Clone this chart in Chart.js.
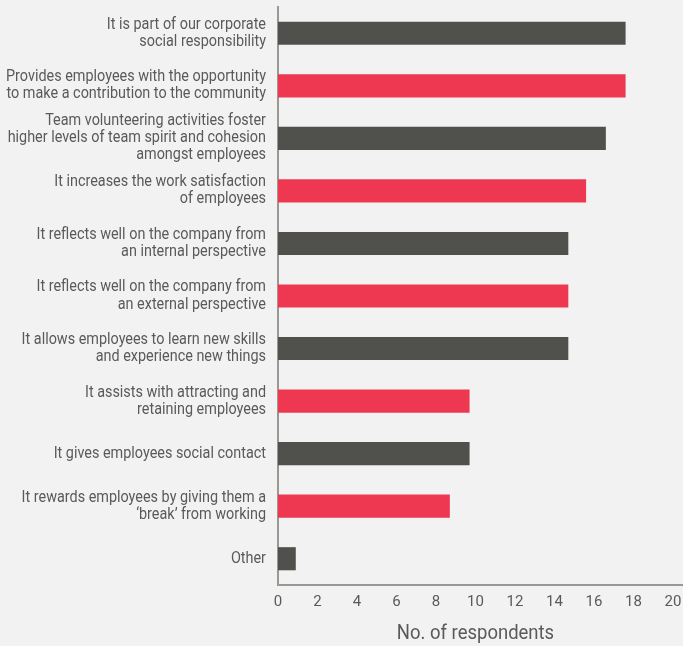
<!DOCTYPE html>
<html>
<head>
<meta charset="utf-8">
<script src="https://cdn.jsdelivr.net/npm/chart.js@4"></script>
<style>
  html, body { margin: 0; padding: 0; background: #f2f2f2; }
  #wrap { width: 683px; height: 646px; position: relative; }
</style>
</head>
<body>
<div id="wrap"><canvas id="reasons_chart"></canvas></div>
<script>
// reasons for team volunteering
var reasons = [
    ["It is part of our corporate", "social responsibility"],
    ["Provides employees with the opportunity", "to make a contribution to the community"],
    ["Team volunteering activities foster", "higher levels of team spirit and cohesion", "amongst employees"],
    ["It increases the work satisfaction", "of employees"],
    ["It reflects well on the company from", "an internal perspective"],
    ["It reflects well on the company from", "an external perspective"],
    ["It allows employees to learn new skills", "and experience new things"],
    ["It assists with attracting and", "retaining employees"],
    ["It gives employees social contact"],
    ["It rewards employees by giving them a", "\u2018break\u2019 from working"],
    ["Other"],
];
var respondents = [17.6, 17.6, 16.6, 15.6, 14.7, 14.7, 14.7, 9.7, 9.7, 8.7, 0.9];
var xTicks = [0, 2, 4, 6, 8, 10, 12, 14, 16, 18, 20];

var dark = "#50504c";
var red = "#ee3852";
var textColor = "#5a5a5a";
var barColors = respondents.map((v, i) => (i % 2 == 0 ? dark : red));
var fontName = "Roboto, 'Liberation Sans', sans-serif";

// the original uses a condensed face, so squeeze text horizontally around an anchor
function squeeze(fn, k, anchorX) {
    return function () {
        const ctx = this.ctx;
        const x0 = anchorX(this);
        ctx.save();
        ctx.translate(x0, 0);
        ctx.scale(k, 1);
        ctx.translate(-x0, 0);
        fn.apply(this, arguments);
        ctx.restore();
    };
}

const condensedText = {
    id: "condensedText",
    afterLayout(chart) {
        const y = chart.scales.y;
        const x = chart.scales.x;
        if (!y._squeezed) {
            y._computeLabelArea = () => undefined; // no clip, the squeeze keeps it inside
            y.drawLabels = squeeze(y.drawLabels, 0.9, (s) => s.right - s.options.ticks.padding);
            y._squeezed = true;
        }
        if (!x._squeezed) {
            x.drawTitle = squeeze(x.drawTitle, 0.88, (s) => (s.left + s.right) / 2);
            x._squeezed = true;
        }
    },
};

// bottom axis line runs to the canvas edge
const longBaseline = {
    id: "longBaseline",
    afterDraw(chart) {
        const ctx = chart.ctx;
        const area = chart.chartArea;
        ctx.save();
        ctx.strokeStyle = "#9b9792";
        ctx.lineWidth = 2;
        ctx.beginPath();
        ctx.moveTo(area.left - 1, area.bottom);
        ctx.lineTo(chart.width, area.bottom);
        ctx.stroke();
        ctx.restore();
    },
};

var chart = new Chart("reasons_chart", {
    type: "bar",
    data: {
        labels: reasons,
        datasets: [
            {
                data: respondents,
                backgroundColor: barColors,
                barPercentage: 0.44,
                categoryPercentage: 1,
            },
        ],
    },
    options: {
        indexAxis: "y",
        responsive: true,
        maintainAspectRatio: false,
        animation: false,
        layout: { padding: { top: 7, right: 10, bottom: 0, left: 0 } },
        plugins: {
            legend: { display: false },
            tooltip: { enabled: false },
        },
        scales: {
            x: {
                min: 0,
                max: 20,
                afterBuildTicks: (axis) => {
                    axis.ticks = xTicks.map((v) => ({ value: v }));
                },
                afterFit: (axis) => {
                    axis.paddingLeft = 0;
                    axis.paddingRight = 0;
                    axis.height = 61;
                },
                grid: { display: false, drawTicks: false },
                border: { display: false },
                ticks: {
                    padding: 8,
                    color: textColor,
                    font: { family: fontName, size: 15 },
                },
                title: {
                    display: true,
                    text: "No. of respondents",
                    color: textColor,
                    font: { family: fontName, size: 21 },
                    padding: { top: 9, bottom: 0 },
                },
            },
            y: {
                grid: { display: false, drawTicks: false },
                border: { display: true, color: "#9b9792", width: 2 },
                afterFit: (axis) => {
                    axis.width = 278;
                    axis.paddingTop = 0;
                    axis.paddingBottom = 0;
                },
                ticks: {
                    padding: 12,
                    color: textColor,
                    font: { family: fontName, size: 16, lineHeight: 1.07 },
                    autoSkip: false,
                },
            },
        },
    },
    plugins: [condensedText, longBaseline],
});
</script>
</body>
</html>
